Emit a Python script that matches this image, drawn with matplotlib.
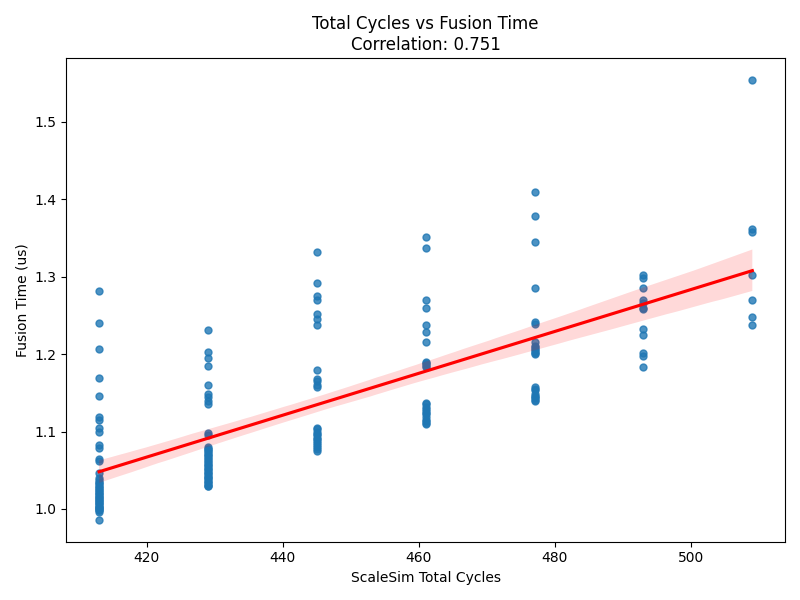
import numpy as np
import matplotlib
matplotlib.use("Agg")
import matplotlib.pyplot as plt
import seaborn as sns

cycles = [413, 429, 445, 461, 477, 493, 509]

fusion_413 = [1.282, 1.240, 1.206, 1.169, 1.146, 1.119, 1.115, 1.105, 1.100, 1.083,
              1.079, 1.065, 1.062, 1.047, 1.037, 1.032, 1.027, 1.022, 1.018, 1.014,
              1.010, 1.006, 1.003, 1.000, 0.996, 0.986,
              1.035, 1.030, 1.025, 1.020, 1.016, 1.012, 1.008, 1.004, 1.001, 0.998,
              1.034, 1.028, 1.024, 1.019, 1.015, 1.011, 1.007, 1.002, 0.999, 1.040]
fusion_429 = [1.231, 1.203, 1.195, 1.184, 1.160, 1.149, 1.145, 1.140, 1.135, 1.098,
              1.095, 1.080, 1.075, 1.070, 1.068, 1.062, 1.058, 1.055, 1.050, 1.045,
              1.040, 1.035, 1.030,
              1.078, 1.073, 1.066, 1.060, 1.053, 1.048, 1.043, 1.038, 1.033, 1.029,
              1.077, 1.071, 1.064, 1.057, 1.052, 1.046, 1.041, 1.036, 1.031]
fusion_445 = [1.332, 1.292, 1.275, 1.270, 1.252, 1.245, 1.238, 1.179, 1.168, 1.165,
              1.160, 1.157, 1.105, 1.100, 1.095, 1.090, 1.085, 1.080, 1.075,
              1.103, 1.097, 1.092, 1.088, 1.083, 1.078]
fusion_461 = [1.351, 1.337, 1.270, 1.259, 1.238, 1.229, 1.215, 1.190, 1.187, 1.183,
              1.137, 1.132, 1.127, 1.122, 1.115, 1.110,
              1.135, 1.129, 1.124, 1.119, 1.113, 1.111, 1.188, 1.185]
fusion_477 = [1.410, 1.379, 1.345, 1.286, 1.241, 1.239, 1.215, 1.211, 1.207, 1.203,
              1.200, 1.157, 1.153, 1.146, 1.143, 1.140,
              1.155, 1.148, 1.144, 1.141, 1.209, 1.205, 1.201]
fusion_493 = [1.302, 1.298, 1.286, 1.270, 1.266, 1.260, 1.258, 1.233, 1.225, 1.201,
              1.198, 1.183]
fusion_509 = [1.554, 1.362, 1.358, 1.302, 1.270, 1.248, 1.238]

groups = [fusion_413, fusion_429, fusion_445, fusion_461, fusion_477, fusion_493, fusion_509]
x = np.concatenate([[c] * len(g) for c, g in zip(cycles, groups)])
y = np.concatenate(groups)

fig, ax = plt.subplots(figsize=(8, 6), dpi=100)
sns.regplot(x=x, y=y, ax=ax, seed=0,
            scatter_kws={"alpha": 0.8, "s": 25}, line_kws={"color": "red"})
ax.set_xlabel("ScaleSim Total Cycles")
ax.set_ylabel("Fusion Time (us)")
ax.set_title("Total Cycles vs Fusion Time\nCorrelation: 0.751")
fig.tight_layout()
fig.savefig("out.png", dpi=100)
